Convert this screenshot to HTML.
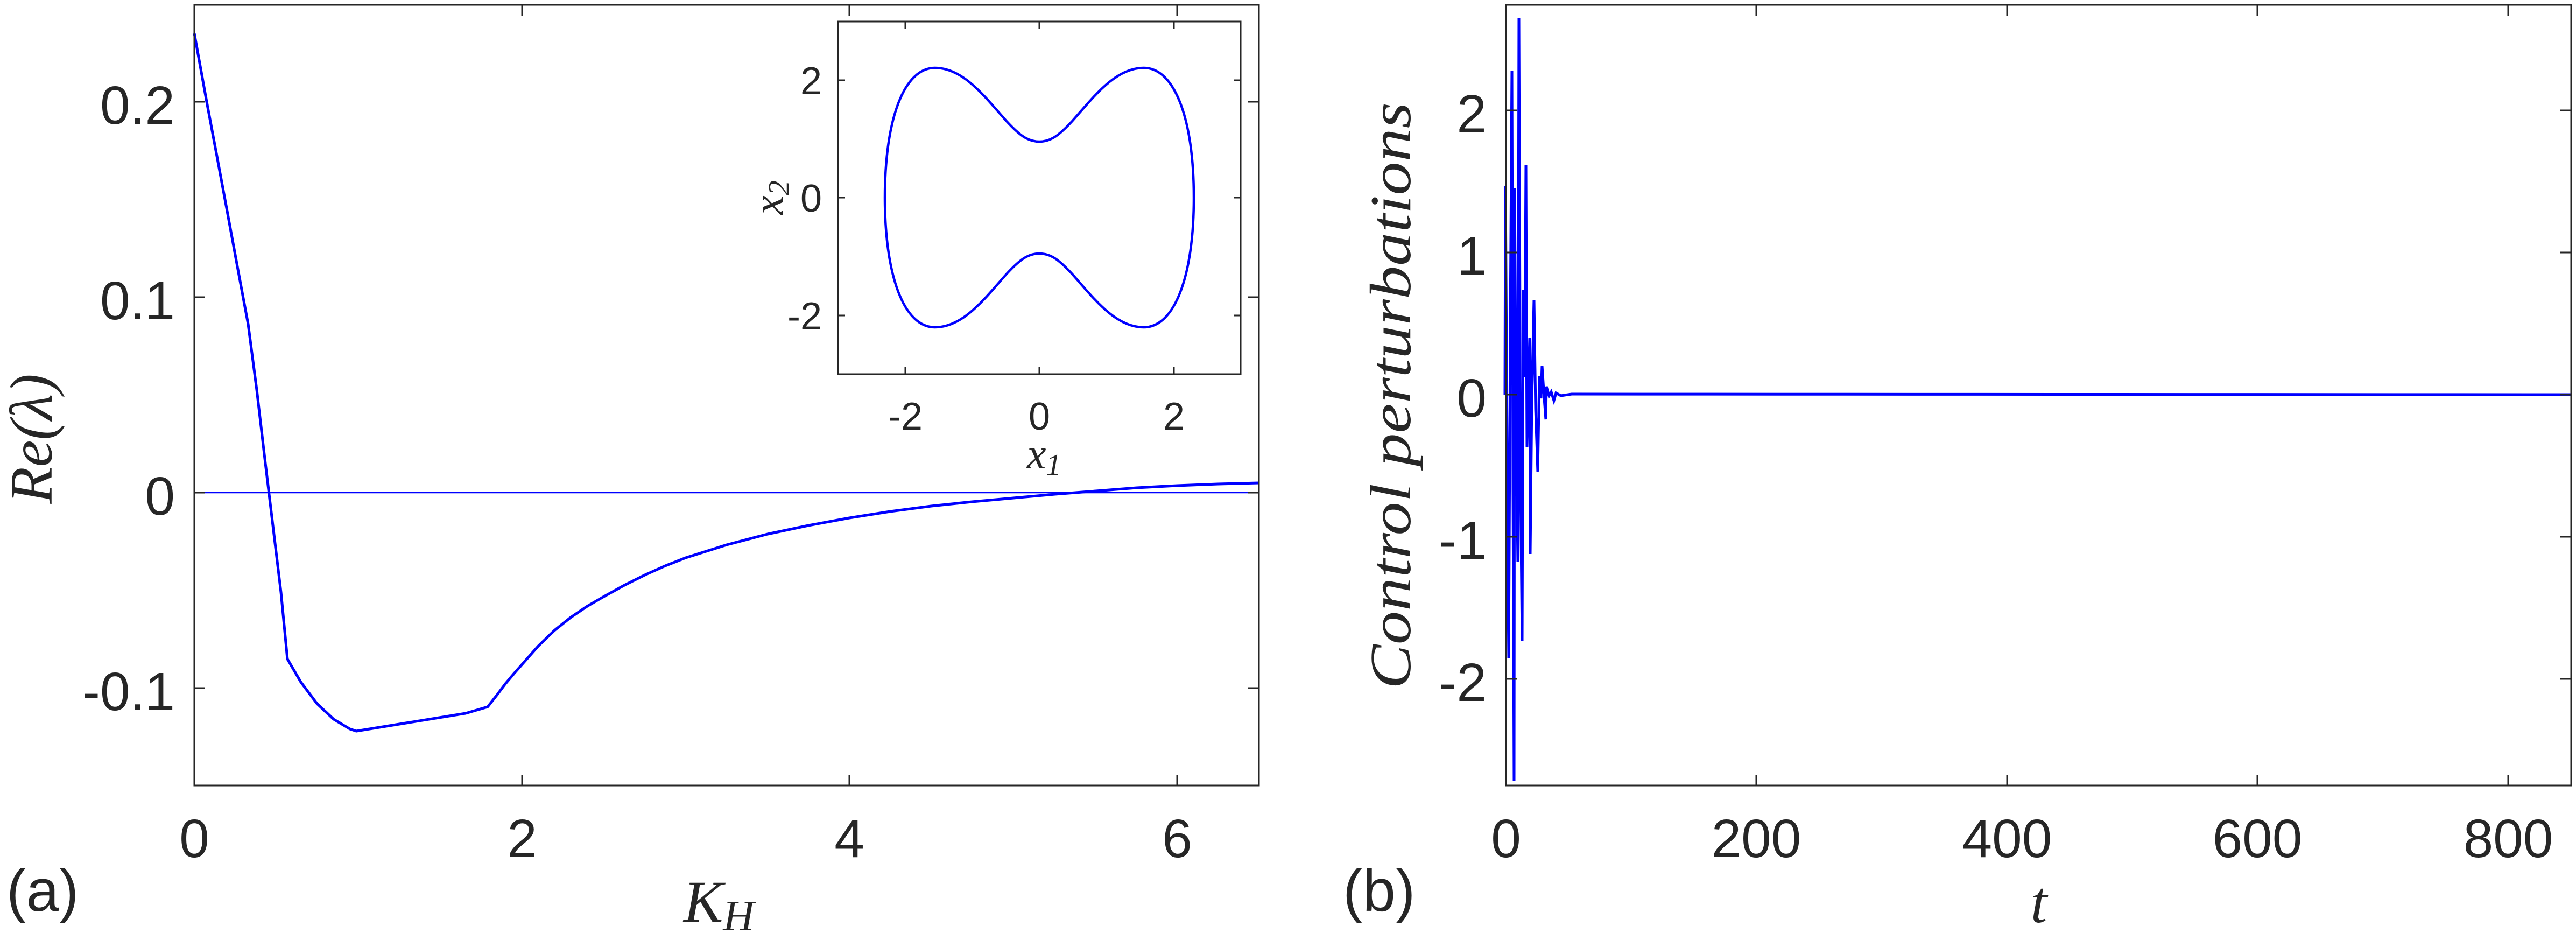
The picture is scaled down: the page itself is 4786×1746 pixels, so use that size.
<!DOCTYPE html>
<html><head><meta charset="utf-8"><style>
html,body{margin:0;padding:0;background:#fff;}
svg{display:block;}
.t{font-family:"Liberation Sans",sans-serif;fill:#262626;}
.m{font-family:"Liberation Serif",serif;font-style:italic;fill:#262626;}
</style></head><body>
<svg width="4786" height="1746" viewBox="0 0 4786 1746" xmlns="http://www.w3.org/2000/svg">
<rect width="4786" height="1746" fill="#fff"/>
<!-- LEFT PLOT -->
<line x1="361" y1="915" x2="2339" y2="915" stroke="#0000ff" stroke-width="2.5"/>
<polyline fill="none" stroke="#0000ff" stroke-width="5" stroke-linejoin="round" points="361,62 384,189 403,290 422,392 441,495 461,602 477,724 492,852 507,976 522,1100 534,1224 559,1267 589,1307 620,1336 650,1354 662,1358 865,1325 906,1313 924,1290 939,1270 955,1251 970,1234 1000,1200 1030,1171 1060,1147 1091,1126 1122,1108 1160,1087 1198,1068 1236,1051 1274,1036 1350,1012 1426,992 1502,976 1578,962 1654,950 1730,940 1806,932 1883,925 1960,918 2036,912 2112,906 2187,902 2263,899 2339,897"/>
<rect x="361" y="9" width="1978" height="1450" fill="none" stroke="#262626" stroke-width="3"/>
<g stroke="#262626" stroke-width="3">
<line x1="361" y1="1459" x2="361" y2="1439"/><line x1="970" y1="1459" x2="970" y2="1439"/><line x1="1578" y1="1459" x2="1578" y2="1439"/><line x1="2187" y1="1459" x2="2187" y2="1439"/>
<line x1="361" y1="9" x2="361" y2="29"/><line x1="970" y1="9" x2="970" y2="29"/><line x1="1578" y1="9" x2="1578" y2="29"/><line x1="2187" y1="9" x2="2187" y2="29"/>
<line x1="361" y1="189" x2="381" y2="189"/><line x1="361" y1="552" x2="381" y2="552"/><line x1="361" y1="915" x2="381" y2="915"/><line x1="361" y1="1278" x2="381" y2="1278"/>
<line x1="2339" y1="189" x2="2319" y2="189"/><line x1="2339" y1="552" x2="2319" y2="552"/><line x1="2339" y1="915" x2="2319" y2="915"/><line x1="2339" y1="1278" x2="2319" y2="1278"/>
</g>
<g class="t" font-size="100" text-anchor="end">
<text x="325" y="230">0.2</text><text x="325" y="593">0.1</text><text x="325" y="956">0</text><text x="325" y="1319">-0.1</text>
</g>
<g class="t" font-size="100" text-anchor="middle">
<text x="361" y="1592">0</text><text x="970" y="1592">2</text><text x="1578" y="1592">4</text><text x="2187" y="1592">6</text>
</g>
<text class="t" font-size="110" x="12" y="1692">(a)</text>
<text class="m" font-size="112" transform="translate(96,815) rotate(-90)" text-anchor="middle">Re(λ)</text>
<text class="m" font-size="110" x="1270" y="1712">K<tspan font-size="80" dy="16">H</tspan></text>
<!-- INSET -->
<rect x="1557" y="40" width="748" height="655" fill="#fff" stroke="#262626" stroke-width="3"/>
<g stroke="#262626" stroke-width="3">
<line x1="1682" y1="695" x2="1682" y2="682"/><line x1="1931" y1="695" x2="1931" y2="682"/><line x1="2181" y1="695" x2="2181" y2="682"/>
<line x1="1682" y1="40" x2="1682" y2="53"/><line x1="1931" y1="40" x2="1931" y2="53"/><line x1="2181" y1="40" x2="2181" y2="53"/>
<line x1="1557" y1="149" x2="1570" y2="149"/><line x1="1557" y1="367" x2="1570" y2="367"/><line x1="1557" y1="586" x2="1570" y2="586"/>
<line x1="2305" y1="149" x2="2292" y2="149"/><line x1="2305" y1="367" x2="2292" y2="367"/><line x1="2305" y1="586" x2="2292" y2="586"/>
</g>
<path fill="none" stroke="#0000ff" stroke-width="4.5" d="M1644,367 C1644,220 1680,126 1737,126 C1790,126 1830,180 1870,225 C1895,252 1910,263 1931,263 C1952,263 1967,252 1992,225 C2032,180 2072,126 2125,126 C2182,126 2218,220 2218,367 C2218,514 2182,608 2125,608 C2072,608 2032,554 1992,509 C1967,482 1952,471 1931,471 C1910,471 1895,482 1870,509 C1830,554 1790,608 1737,608 C1680,608 1644,514 1644,367 Z"/>
<g class="t" font-size="72" text-anchor="end">
<text x="1527" y="175">2</text><text x="1527" y="393">0</text><text x="1527" y="612">-2</text>
</g>
<g class="t" font-size="72" text-anchor="middle">
<text x="1682" y="798">-2</text><text x="1931" y="798">0</text><text x="2181" y="798">2</text>
</g>
<text class="m" font-size="80" x="1908" y="870">x<tspan font-size="56" dy="12">1</tspan></text>
<text class="m" font-size="80" transform="translate(1454,367) rotate(-90)" text-anchor="middle">x<tspan font-size="56" dy="12">2</tspan></text>
<!-- RIGHT PLOT -->
<polyline fill="none" stroke="#0000ff" stroke-width="5" stroke-linejoin="miter" points="2796,733 2797,345 2801,1000 2803,1223 2806,600 2809,132 2811,900 2813,1450 2814,349 2817,800 2820,1043 2822,33 2825,900 2828,1190 2830,538 2833,700 2835,307 2837,831 2840,700 2842,628 2843,1029 2846,740 2850,557 2853,760 2857,876 2860,699 2863,740 2865,680 2869,740 2872,779 2873,718 2878,735 2882,728 2887,744 2891,730 2900,735 2920,732 4777,733"/>
<rect x="2798" y="9" width="1979" height="1450" fill="none" stroke="#262626" stroke-width="3"/>
<g stroke="#262626" stroke-width="3">
<line x1="2798" y1="1459" x2="2798" y2="1439"/><line x1="3263" y1="1459" x2="3263" y2="1439"/><line x1="3729" y1="1459" x2="3729" y2="1439"/><line x1="4194" y1="1459" x2="4194" y2="1439"/><line x1="4660" y1="1459" x2="4660" y2="1439"/>
<line x1="3263" y1="9" x2="3263" y2="29"/><line x1="3729" y1="9" x2="3729" y2="29"/><line x1="4194" y1="9" x2="4194" y2="29"/><line x1="4660" y1="9" x2="4660" y2="29"/>
<line x1="2798" y1="205" x2="2818" y2="205"/><line x1="2798" y1="469" x2="2818" y2="469"/><line x1="2798" y1="733" x2="2818" y2="733"/><line x1="2798" y1="997" x2="2818" y2="997"/><line x1="2798" y1="1261" x2="2818" y2="1261"/>
<line x1="4777" y1="205" x2="4757" y2="205"/><line x1="4777" y1="469" x2="4757" y2="469"/><line x1="4777" y1="733" x2="4757" y2="733"/><line x1="4777" y1="997" x2="4757" y2="997"/><line x1="4777" y1="1261" x2="4757" y2="1261"/>
</g>
<g class="t" font-size="100" text-anchor="end">
<text x="2762" y="246">2</text><text x="2762" y="510">1</text><text x="2762" y="774">0</text><text x="2762" y="1038">-1</text><text x="2762" y="1302">-2</text>
</g>
<g class="t" font-size="100" text-anchor="middle">
<text x="2798" y="1592">0</text><text x="3263" y="1592">200</text><text x="3729" y="1592">400</text><text x="4194" y="1592">600</text><text x="4660" y="1592">800</text>
</g>
<text class="t" font-size="110" x="2495" y="1692">(b)</text>
<text class="m" font-size="110" x="3788" y="1713" text-anchor="middle">t</text>
<text class="m" font-size="108" transform="translate(2620,735) rotate(-90)" text-anchor="middle" textLength="1090" lengthAdjust="spacingAndGlyphs">Control perturbations</text>
</svg>
</body></html>
